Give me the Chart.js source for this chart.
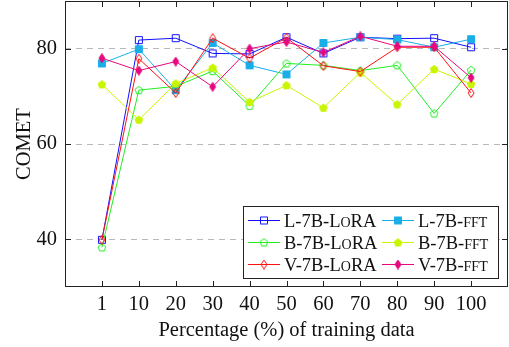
<!DOCTYPE html>
<html>
<head>
<meta charset="utf-8">
<script src="https://cdn.jsdelivr.net/npm/chart.js@4"></script>
<style>
  body { margin: 0; background: #fff; }
  #holder { width: 509px; height: 347px; }
</style>
</head>
<body>
<div id="holder"><canvas id="myChart" width="509" height="347"></canvas></div>
<script>
// x categories (percentage of training data)
const categories = ["1", "10", "20", "30", "40", "50", "60", "70", "80", "90", "100"];
const yTicks = [40, 60, 80];

// COMET scores
const lLora = [39.9, 81.8, 82.2, 79.0, 78.9, 82.4, 79.0, 82.4, 82.1, 82.2, 80.3];
const lFft = [76.9, 79.9, 71.3, 81.2, 76.5, 74.6, 81.2, 82.4, 81.9, 80.3, 82.0];
const bLora = [38.3, 71.3, 72.1, 75.3, 68.0, 76.9, 76.5, 75.4, 76.5, 66.4, 75.5];
const bFft = [72.5, 65.1, 72.7, 76.0, 68.8, 72.3, 67.6, 75.0, 68.3, 75.7, 72.6];
const vLora = [39.9, 77.9, 70.7, 82.2, 78.0, 82.3, 76.4, 75.2, 80.3, 80.3, 70.7];
const vFft = [78.0, 75.4, 77.3, 72.0, 80.0, 81.4, 79.2, 82.6, 80.5, 80.5, 73.9];

const FONT = "'Liberation Serif', 'DejaVu Serif', serif";
const FS = 20.5;

// small canvases used as point styles (pgfplots-like marks)
function makeMark(shape, color, filled) {
  const c = document.createElement("canvas");
  c.width = 10;
  c.height = 10;
  const g = c.getContext("2d");
  g.strokeStyle = color;
  g.fillStyle = color;
  g.lineWidth = 1;
  g.beginPath();
  if (shape === "square") {
    g.rect(1.5, 1.5, 7, 7);
  } else if (shape === "pentagon") {
    for (let k = 0; k < 5; k++) {
      const a = -Math.PI / 2 + (k * 2 * Math.PI) / 5;
      const px = 5 + 4 * Math.cos(a);
      const py = 5.3 + 4 * Math.sin(a);
      if (k === 0) g.moveTo(px, py);
      else g.lineTo(px, py);
    }
    g.closePath();
  } else {
    g.moveTo(5, 0.5);
    g.lineTo(8, 5);
    g.lineTo(5, 9.5);
    g.lineTo(2, 5);
    g.closePath();
  }
  if (filled) g.fill();
  g.stroke();
  return c;
}

const series = [
  { name: "L-7B-", tail: "LoRA", data: lLora, color: "#1010ff", shape: "square", filled: false },
  { name: "L-7B-", tail: "FFT", data: lFft, color: "#1aaee8", shape: "square", filled: true },
  { name: "B-7B-", tail: "LoRA", data: bLora, color: "#22ee22", shape: "pentagon", filled: false },
  { name: "B-7B-", tail: "FFT", data: bFft, color: "#c8f500", shape: "pentagon", filled: true },
  { name: "V-7B-", tail: "LoRA", data: vLora, color: "#ff1010", shape: "diamond", filled: false },
  { name: "V-7B-", tail: "FFT", data: vFft, color: "#e8087e", shape: "diamond", filled: true },
];
series.forEach((s) => (s.mark = makeMark(s.shape, s.color, s.filled)));

// draw "LoRA" / "FFT" in small caps by hand
function drawLabel(ctx, x, y, s) {
  const big = "18.5px " + FONT;
  const small = "14px " + FONT;
  ctx.fillStyle = "#111";
  ctx.textBaseline = "alphabetic";
  ctx.textAlign = "left";
  const parts =
    s.tail === "LoRA"
      ? [[s.name + "L", big], ["O", small], ["RA", big]]
      : [[s.name, big], ["FFT", small]];
  parts.forEach(([t, f]) => {
    ctx.font = f;
    ctx.fillText(t, x, y);
    x += ctx.measureText(t).width;
  });
}

const framePlugin = {
  id: "frame",
  afterDraw(chart) {
    const { ctx, chartArea: a, scales } = chart;
    ctx.save();
    ctx.strokeStyle = "#222";
    ctx.lineWidth = 1;
    // tick marks inside the box
    ctx.beginPath();
    categories.forEach((c, i) => {
      const x = Math.round(scales.x.getPixelForValue(i + 1)) + 0.5;
      ctx.moveTo(x, a.bottom);
      ctx.lineTo(x, a.bottom - 6);
      ctx.moveTo(x, a.top);
      ctx.lineTo(x, a.top + 6);
    });
    yTicks.forEach((v) => {
      const y = Math.round(scales.y.getPixelForValue(v)) + 0.5;
      ctx.moveTo(a.left, y);
      ctx.lineTo(a.left + 6, y);
      ctx.moveTo(a.right, y);
      ctx.lineTo(a.right - 6, y);
    });
    ctx.stroke();
    // axis box
    ctx.strokeRect(Math.round(a.left) + 0.5, Math.round(a.top) + 0.5,
      Math.round(a.right - a.left) - 1, Math.round(a.bottom - a.top) - 1);

    // legend
    const lx = 243.5, ly = 206.5, lw = 255, lh = 72;
    ctx.fillStyle = "#fff";
    ctx.fillRect(lx, ly, lw, lh);
    ctx.strokeRect(lx, ly, lw, lh);
    series.forEach((s, i) => {
      const col = i % 2;
      const row = Math.floor(i / 2);
      const x0 = col === 0 ? 248 : 382;
      const y = 220 + row * 22;
      ctx.strokeStyle = s.color;
      ctx.beginPath();
      ctx.moveTo(x0, y + 0.5);
      ctx.lineTo(x0 + 32, y + 0.5);
      ctx.stroke();
      ctx.drawImage(s.mark, x0 + 16 - 5, y - 4.5);
      drawLabel(ctx, x0 + 36, y + 6.5, s);
    });
    ctx.restore();
  },
};

// kill Chart.js' automatic label padding so the box fills the canvas
function noPad(s) {
  s.paddingTop = 0;
  s.paddingBottom = 0;
  s.paddingLeft = 0;
  s.paddingRight = 0;
}

const ctx = document.getElementById("myChart").getContext("2d");
const myChart = new Chart(ctx, {
  type: "line",
  data: {
    datasets: series.map((s, i) => ({
      label: s.name + s.tail,
      data: s.data.map((v, k) => ({ x: k + 1, y: v })),
      borderColor: s.color,
      backgroundColor: s.color,
      borderWidth: 1,
      pointStyle: s.mark,
      pointRadius: 5,
      tension: 0,
      fill: false,
      order: series.length - i,
    })),
  },
  options: {
    responsive: false,
    animation: false,
    layout: { autoPadding: false, padding: { top: 1, right: 1, left: 0, bottom: 0 } },
    plugins: { legend: { display: false }, tooltip: { enabled: false } },
    scales: {
      x: {
        type: "linear",
        min: 0,
        max: 12,
        afterBuildTicks: (s) => {
          s.ticks = categories.map((c, i) => ({ value: i + 1 }));
        },
        afterFit: (s) => {
          s.height = 60;
          noPad(s);
        },
        grid: { display: false, drawTicks: false },
        border: { display: false },
        ticks: {
          callback: (v) => categories[v - 1],
          color: "#111",
          font: { family: FONT, size: FS },
          padding: 5,
          maxRotation: 0,
          autoSkip: false,
        },
        title: {
          display: true,
          text: "Percentage (%) of training data",
          color: "#111",
          font: { family: FONT, size: FS },
          padding: { top: 0, bottom: 4.5 },
        },
      },
      y: {
        min: 30,
        max: 90,
        afterBuildTicks: (s) => {
          s.ticks = yTicks.map((v) => ({ value: v }));
        },
        afterFit: (s) => {
          s.width = 65;
          noPad(s);
        },
        grid: { color: "#b8b8b8", drawTicks: false },
        border: { display: false, dash: [6, 5] },
        ticks: {
          color: "#111",
          font: { family: FONT, size: FS },
          padding: 8,
        },
        title: {
          display: true,
          text: "COMET",
          color: "#111",
          font: { family: FONT, size: FS },
          padding: { top: 12.5, bottom: 0 },
        },
      },
    },
  },
  plugins: [framePlugin],
});
</script>
</body>
</html>
